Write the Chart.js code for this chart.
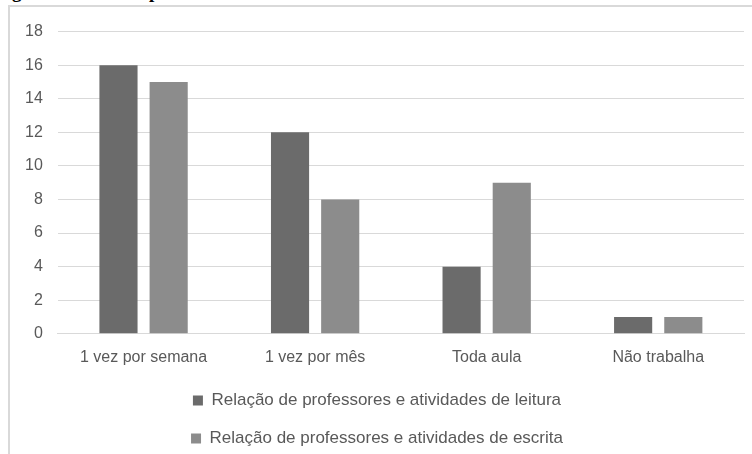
<!DOCTYPE html>
<html>
<head>
<meta charset="utf-8">
<script src="https://cdn.jsdelivr.net/npm/chart.js@4"></script>
<style>
  html, body { margin: 0; padding: 0; background: #fff; }
  body { width: 752px; height: 454px; position: relative; overflow: hidden; }
  #legenda {
    position: absolute; left: -5px; top: -19.5px; margin: 0;
    font: bold 19px "Liberation Serif", serif; color: #000; white-space: nowrap;
  }
  #moldura {
    position: absolute; left: 8px; top: 5px; width: 742px; height: 447px;
    border-left: 2px solid #d9d9d9; border-top: 2px solid #d9d9d9; background: #fff;
  }
</style>
</head>
<body>
<p id="legenda">Figura 3 – Leitura por</p>
<div id="moldura"><canvas id="grafico"></canvas></div>
<script>
// ─── DADOS ────────────────────────────────────────────────
const categorias = ['1 vez por semana', '1 vez por mês', 'Toda aula', 'Não trabalha'];
const leitura    = [16, 12, 4, 1];
const escrita    = [15, 8, 9, 1];
const nomeLeitura = 'Relação de professores e atividades de leitura';
const nomeEscrita = 'Relação de professores e atividades de escrita';

const corTexto = '#595959';
const corGrade = '#d9d9d9';

Chart.defaults.font.family = '"Liberation Sans", Arial, sans-serif';
Chart.defaults.font.size   = 16;
Chart.defaults.color       = corTexto;

new Chart(document.getElementById('grafico'), {
  type: 'bar',
  data: {
    labels: categorias,
    datasets: [
      { label: nomeLeitura, data: leitura, backgroundColor: '#6b6b6b' },
      { label: nomeEscrita, data: escrita, backgroundColor: '#8c8c8c' },
    ],
  },
  options: {
    responsive: true,
    maintainAspectRatio: false,
    animation: false,
    categoryPercentage: 0.585,
    barPercentage: 0.76,
    layout: { padding: { top: 16, right: 8, left: 0, bottom: -3 } },
    plugins: {
      tooltip: { enabled: false },
      legend: {
        position: 'bottom',
        labels: { boxWidth: 10, boxHeight: 10, padding: 21, color: corTexto, font: { size: 17 } },
      },
    },
    scales: {
      x: {
        grid: { display: false, drawTicks: false },
        border: { display: true, color: corGrade, width: 1 },
        ticks: { padding: 14, color: corTexto },
        // aproxima a legenda dos rótulos do eixo
        afterFit: (eixo) => { eixo.height -= 10; },
      },
      y: {
        min: 0, max: 18,
        grid: { color: corGrade, drawTicks: false },
        border: { display: false },
        ticks: { stepSize: 2, padding: 15, color: corTexto },
      },
    },
  },
});
</script>
</body>
</html>
